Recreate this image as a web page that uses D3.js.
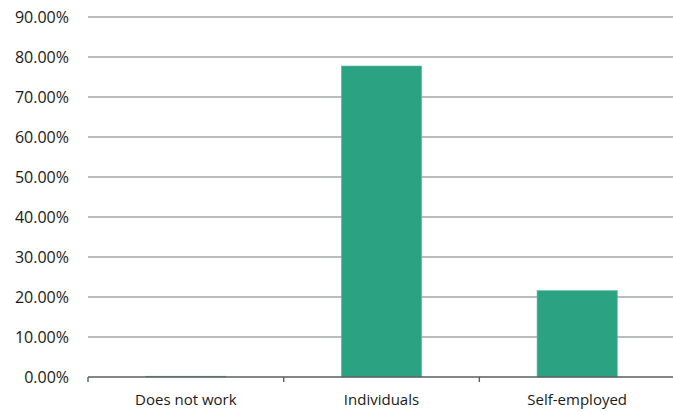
<!DOCTYPE html>
<html>
<head>
<meta charset="utf-8">
<script src="https://cdn.jsdelivr.net/npm/d3@7"></script>
<style>
  body { margin: 0; background: #fff; }
  svg text { font-family: "Open Sans", sans-serif; fill: #1a1a1a; }
</style>
</head>
<body>
<div id="chart"></div>
<script>
const categories = ["Does not work", "Individuals", "Self-employed"];
const values = [0.002, 0.7775, 0.216];
const yTicks = [0, 0.1, 0.2, 0.3, 0.4, 0.5, 0.6, 0.7, 0.8, 0.9];

const width = 673, height = 412;
const margin = {top: 17, right: -2, bottom: 35, left: 88};

const svg = d3.select("#chart").append("svg")
    .attr("width", width)
    .attr("height", height);

const x = d3.scaleBand()
    .domain(categories)
    .range([margin.left, width - margin.right])
    .paddingInner(0.59)
    .paddingOuter(0.295);

const y = d3.scaleLinear()
    .domain([0, 0.9])
    .range([height - margin.bottom, margin.top]);

// gridlines
svg.append("g")
  .selectAll("line")
  .data(yTicks.slice(1))
  .enter().append("line")
    .attr("x1", margin.left)
    .attr("x2", width - margin.right)
    .attr("y1", d => y(d))
    .attr("y2", d => y(d))
    .attr("stroke", "#a3a7ab")
    .attr("stroke-width", 1.6);

// y labels
svg.append("g")
  .selectAll("text")
  .data(yTicks)
  .enter().append("text")
    .attr("x", 69)
    .attr("y", d => y(d))
    .attr("dy", "0.35em")
    .attr("text-anchor", "end")
    .style("font-size", "16px")
    .text(d => d3.format(".2%")(d));

// bars
svg.append("g")
  .selectAll("rect")
  .data(values)
  .enter().append("rect")
    .attr("x", (d, i) => x(categories[i]))
    .attr("y", d => y(d))
    .attr("width", x.bandwidth())
    .attr("height", d => y(0) - y(d))
    .attr("fill", "#2ba383")
    .attr("stroke", "#5cbfa3")
    .attr("stroke-width", 0.6);

// x axis
const xAxis = svg.append("g")
    .attr("transform", `translate(0,${y(0)})`);
xAxis.append("line")
    .attr("x1", margin.left)
    .attr("x2", width - margin.right)
    .attr("stroke", "#5a5e62")
    .attr("stroke-width", 1.6);
const edges = [margin.left].concat(categories.map(c => x(c) + x.bandwidth() + x.step() * x.paddingInner() / 2));
xAxis.selectAll(".tk")
  .data(edges)
  .enter().append("line")
    .attr("x1", d => d).attr("x2", d => d)
    .attr("y1", 0).attr("y2", 5)
    .attr("stroke", "#5a5e62")
    .attr("stroke-width", 1.4);
xAxis.selectAll("text")
  .data(categories)
  .enter().append("text")
    .attr("x", d => x(d) + x.bandwidth() / 2)
    .attr("y", 28)
    .attr("text-anchor", "middle")
    .style("font-size", "15px")
    .text(d => d);
</script>
</body>
</html>
